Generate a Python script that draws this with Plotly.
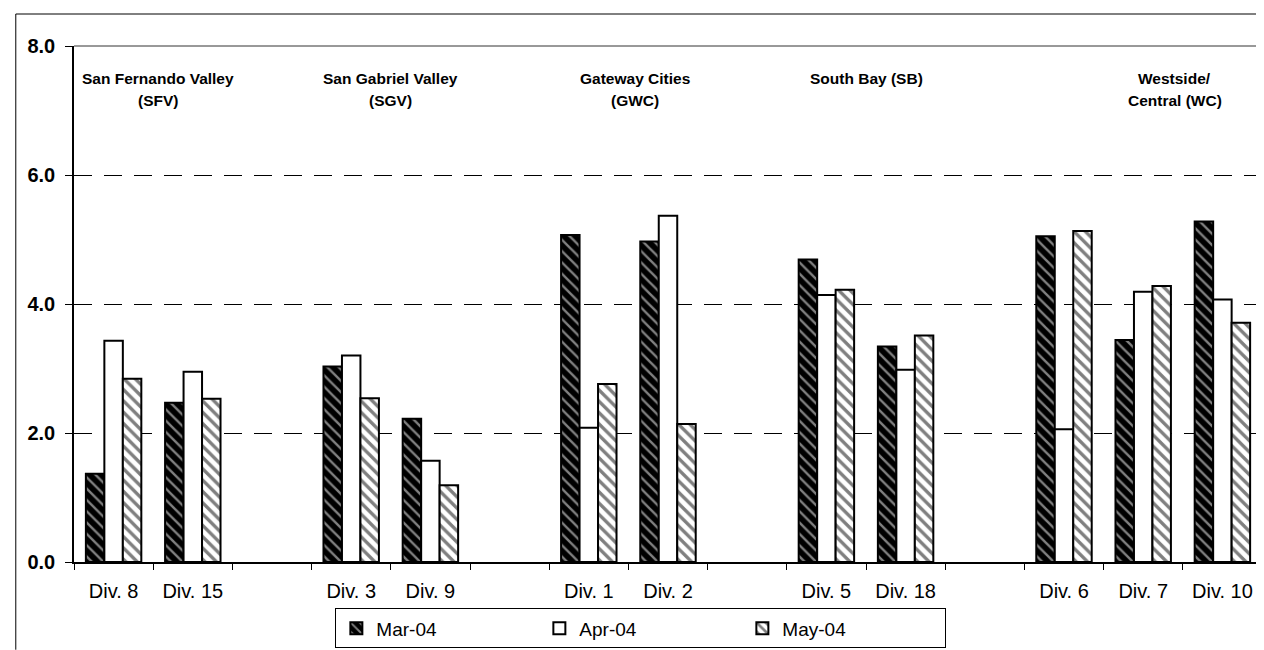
import plotly.graph_objects as go

# x categories; blank entries are the gaps between regions
divisions = ["Div. 8", "Div. 15", " ", "Div. 3", "Div. 9", "  ",
             "Div. 1", "Div. 2", "   ", "Div. 5", "Div. 18", "    ",
             "Div. 6", "Div. 7", "Div. 10"]

mar_04 = [1.37, 2.47, None, 3.03, 2.22, None, 5.07, 4.97, None, 4.69, 3.34, None, 5.05, 3.44, 5.28]
apr_04 = [3.43, 2.95, None, 3.20, 1.57, None, 2.08, 5.37, None, 4.14, 2.98, None, 2.06, 4.19, 4.07]
may_04 = [2.84, 2.53, None, 2.54, 1.19, None, 2.76, 2.14, None, 4.22, 3.51, None, 5.13, 4.28, 3.71]

# region captions: (line 1, line 2, x position in category units)
regions = [
    ("San Fernando Valley", "(SFV)", 0.56),
    ("San Gabriel Valley", "(SGV)", 3.5),
    ("Gateway Cities", "(GWC)", 6.58),
    ("South Bay (SB)", "", 9.5),
    ("Westside/", "Central (WC)", 13.4),
]

y_ticks = [0, 2, 4, 6, 8]

FONT = "Arial, Liberation Sans, sans-serif"

fig = go.Figure()
fig.add_trace(go.Bar(
    x=divisions, y=mar_04, name="Mar-04",
    marker=dict(color="black", line=dict(color="black", width=2),
                pattern=dict(shape="\\", bgcolor="black", fgcolor="white",
                             size=8, solidity=0.3)),
))
fig.add_trace(go.Bar(
    x=divisions, y=apr_04, name="Apr-04",
    marker=dict(color="white", line=dict(color="black", width=2)),
))
fig.add_trace(go.Bar(
    x=divisions, y=may_04, name="May-04",
    marker=dict(color="white", line=dict(color="black", width=2),
                pattern=dict(shape="\\", bgcolor="white", fgcolor="black",
                             size=8, solidity=0.42)),
))

for line1, line2, xpos in regions:
    fig.add_annotation(x=xpos, y=7.5, text="<b>%s</b>" % line1, showarrow=False,
                       xanchor="center", yanchor="middle",
                       font=dict(family=FONT, size=15.5, color="black"))
    if line2:
        fig.add_annotation(x=xpos, y=7.15, text="<b>%s</b>" % line2, showarrow=False,
                           xanchor="center", yanchor="middle",
                           font=dict(family=FONT, size=15.5, color="black"))

# outer frame of the original figure (left and top edges)
fig.add_shape(type="line", xref="paper", yref="paper",
              x0=-0.049, x1=1.02, y0=1.062, y1=1.062,
              line=dict(color="black", width=1))
fig.add_shape(type="line", xref="paper", yref="paper",
              x0=-0.049, x1=-0.049, y0=1.062, y1=-0.17,
              line=dict(color="black", width=1))
# thin top and right edges of the plot area
fig.add_shape(type="line", xref="paper", yref="paper",
              x0=0, x1=1, y0=1, y1=1, line=dict(color="#333333", width=1))
fig.add_shape(type="line", xref="paper", yref="paper",
              x0=1, x1=1, y0=0, y1=1, line=dict(color="#333333", width=1))

fig.update_layout(
    width=1264, height=650,
    paper_bgcolor="white", plot_bgcolor="white",
    barmode="group", bargap=0.3, bargroupgap=0,
    margin=dict(l=66, r=10, t=38, b=85),
    font=dict(family=FONT, color="black"),
    showlegend=True,
    legend=dict(orientation="h", x=0.22, xanchor="left", y=-0.09, yanchor="top",
                bordercolor="black", borderwidth=1, bgcolor="white",
                entrywidth=158, itemwidth=30,
                font=dict(family=FONT, size=19, color="black"),
                traceorder="normal"),
    xaxis=dict(
        type="category", tickson="boundaries", ticks="outside", ticklen=6,
        tickcolor="black", showline=True, linecolor="black", linewidth=1.5,
        showgrid=False, ticklabelstandoff=10,
        tickfont=dict(family=FONT, size=20, color="black"),
    ),
    yaxis=dict(
        range=[0, 8], tickvals=y_ticks, tickformat=".1f",
        ticks="outside", ticklen=7, tickcolor="black", ticklabelstandoff=6,
        showline=True, linecolor="black", linewidth=1.5,
        showgrid=True, gridcolor="black", gridwidth=1, griddash="18px,12px",
        zeroline=False,
        tickfont=dict(family=FONT, size=20, color="black", weight="bold"),
    ),
)

fig.write_html("out.html")
